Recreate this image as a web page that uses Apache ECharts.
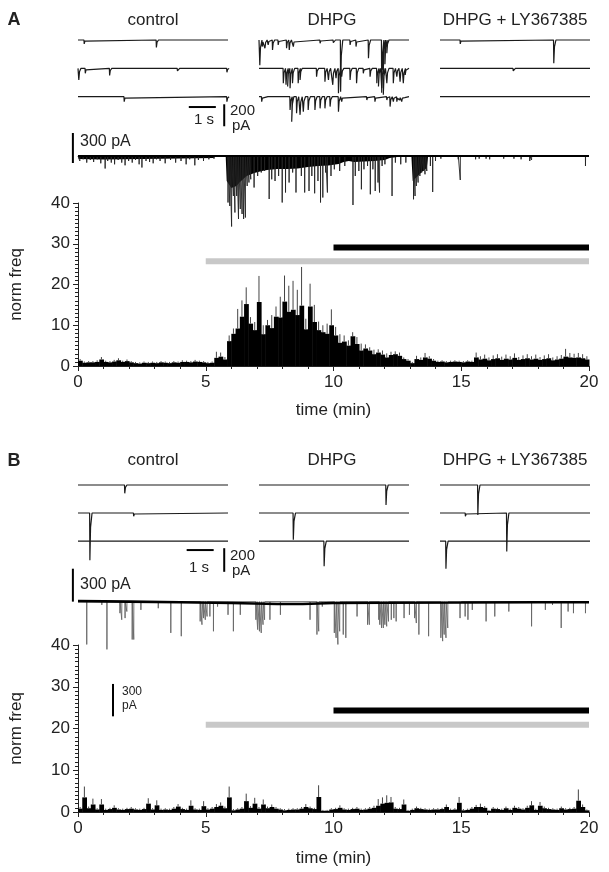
<!DOCTYPE html>
<html>
<head>
<meta charset="utf-8">
<script src="https://cdn.jsdelivr.net/npm/echarts@6/dist/echarts.min.js"></script>
<style>
html, body { margin: 0; padding: 0; background: #fff; }
#chart { width: 609px; height: 872px; }
</style>
</head>
<body>
<div id="chart"></div>
<script>
var FONT = "'Liberation Sans', Arial, Helvetica, sans-serif";
var BIN = 1 / 6;        // 10 s bins, in min
var TRACE_DUR = 5.55;   // s shown in each sample trace

// ---- histograms (norm freq per 10 s bin) ----
var histA = [1.3,0.8,0.9,0.9,1.0,1.6,1.0,0.9,1.1,1.4, 1.0,1.2,0.9,0.7,0.6,0.8,0.7,0.8,0.7,0.9,
  0.8,0.7,0.9,0.8,1.0,1.0,0.9,1.1,1.0,0.9, 0.7,0.8,2.0,2.3,1.6,6.1,7.9,9.2,12.1,15.2,
  10.4,8.8,15.7,7.8,10.0,9.3,12.1,11.9,15.8,13.3, 13.8,12.5,14.8,9.0,14.6,10.8,8.8,8.3,7.9,10.0,
  7.5,5.7,6.0,5.0,7.3,5.4,3.8,4.3,3.8,2.9, 3.3,2.8,2.1,2.7,2.9,2.5,1.7,1.3,0.7,1.7,
  1.5,2.1,1.8,1.3,1.0,1.1,0.9,1.0,1.1,1.0, 0.9,1.1,1.0,2.1,1.6,1.8,1.4,1.7,1.9,1.5,
  1.8,1.6,2.0,1.5,1.7,1.9,1.6,1.8,1.5,1.7, 1.9,1.4,1.6,1.8,2.3,2.1,2.0,2.1,1.9,1.6];
var errA = [0.4,0.3,0.3,0.3,0.4,0.6,0.3,0.3,0.4,0.5, 0.3,0.4,0.3,0.3,0.3,0.3,0.3,0.3,0.3,0.3,
  0.3,0.3,0.3,0.3,0.4,0.3,0.3,0.4,0.3,0.3, 0.3,0.3,1.5,1.0,0.6,1.4,1.3,4.8,4.0,4.1,
  1.6,2.0,6.4,2.2,1.3,3.2,2.5,5.1,6.4,6.4, 7.1,6.2,9.5,2.6,5.6,4.2,2.1,1.7,2.5,3.9,
  2.1,2.1,1.5,1.3,1.0,1.7,1.7,1.0,0.8,1.1, 0.8,1.0,1.0,0.8,0.7,0.8,0.4,0.4,0.3,0.8,
  0.6,1.1,0.6,0.4,0.3,0.3,0.3,0.3,0.3,0.3, 0.3,0.3,0.3,1.2,0.8,1.0,0.7,0.9,1.0,0.8,
  1.0,0.8,1.1,0.7,0.9,1.0,0.8,1.0,0.7,0.9, 1.0,0.7,0.8,0.9,1.9,1.1,1.0,1.1,1.0,0.8];
var histB = [0.8,3.5,0.9,1.8,0.6,1.8,0.5,0.7,1.0,0.6, 0.5,0.7,0.8,0.6,0.5,0.7,2.0,0.6,1.6,0.5,
  0.6,0.5,0.8,1.3,0.7,0.5,1.5,0.6,0.5,1.4, 0.6,0.8,1.2,1.5,0.9,3.5,0.4,0.6,0.8,2.6,
  1.0,2.0,0.8,1.8,0.9,1.2,0.8,0.6,0.4,0.5, 0.6,0.6,0.8,1.2,0.9,0.7,3.6,0.3,0.3,0.6,
  0.7,1.0,0.6,0.5,0.7,0.8,0.5,0.6,0.8,1.0, 1.5,2.0,2.2,2.3,0.8,0.7,1.8,0.3,0.5,0.9,
  0.7,0.6,0.5,0.6,0.6,0.7,1.2,0.5,0.6,2.2, 0.4,0.5,0.8,1.2,1.2,1.0,0.3,0.8,0.7,0.5,
  0.9,0.5,1.0,0.8,0.6,1.0,1.6,0.5,1.5,0.9, 0.7,0.6,0.5,0.9,0.6,0.7,0.8,2.7,1.2,0.4];
var errB = [0.4,2.6,0.4,1.4,0.3,1.3,0.3,0.3,0.6,0.3, 0.3,0.3,0.4,0.3,0.3,0.3,1.3,0.3,1.2,0.3,
  0.3,0.3,0.4,0.6,0.3,0.3,1.3,0.3,0.3,1.2, 0.3,0.4,0.7,0.8,0.4,2.6,0.3,0.3,0.4,1.8,
  0.4,1.4,0.4,1.2,0.4,0.6,0.4,0.3,0.3,0.3, 0.3,0.3,0.4,0.7,0.4,0.3,2.8,0.2,0.2,0.3,
  0.3,0.6,0.3,0.3,0.3,0.4,0.3,0.3,0.4,0.5, 1.6,1.5,1.8,1.3,0.4,0.3,1.2,0.2,0.3,0.4,
  0.3,0.3,0.3,0.3,0.3,0.3,0.6,0.3,0.3,1.4, 0.3,0.3,0.4,0.5,0.8,0.4,0.2,0.4,0.3,0.3,
  0.4,0.3,0.5,0.4,0.3,0.5,1.0,0.3,0.9,0.4, 0.3,0.3,0.3,0.4,0.3,0.3,0.4,2.7,0.6,0.2];

// drug application periods (min)
var dhpgPeriod = [5, 20];
var lyPeriod = [10, 20];
var xTicks = [0, 5, 10, 15, 20];

// ---- 20-min recordings: events [min, pA] ----
var longEventsA = [[0.07,50],[0.2,33],[0.34,66],[0.48,40],[0.61,60],[0.75,33],[0.89,73],[1.06,125],[1.16,50],
  [1.3,66],[1.43,83],[1.57,40],[1.71,66],[1.84,93],[1.98,50],[2.12,66],[2.25,40],[2.39,83],[2.5,115],
  [2.66,50],[2.8,60],[2.94,73],[3.07,33],[3.21,50],[3.41,73],[3.62,40],[3.82,66],[4.03,50],[4.23,83],
  [4.37,33],[4.57,93],[4.71,40],[4.91,50],[5.12,33],[5.32,27],
  [5.87,465],[5.94,500],[6.01,705],[6.08,400],[6.14,565],[6.21,400],[6.28,630],[6.35,530],[6.42,580],
  [6.48,630],[6.55,615],[6.62,300],[6.69,265],[6.76,233],[6.89,315],[7.03,200],[7.17,165],[7.3,150],
  [7.48,430],[7.58,233],[7.71,250],[7.85,200],[7.99,465],[8.12,365],[8.26,265],[8.4,165],[8.53,365],
  [8.74,200],[8.87,365],[9.04,350],[9.15,200],[9.26,373],[9.39,250],[9.49,465],[9.58,415],[9.69,165],
  [9.76,365],[9.9,200],[10.03,133],[10.24,150],[10.44,100],[10.76,490],[10.85,200],[10.99,150],
  [11.09,333],[11.19,133],[11.33,100],[11.44,383],[11.54,133],[11.63,350],[11.74,265],[11.8,365],
  [11.9,100],[12.01,83],[12.29,400],[12.42,66],[12.63,83],[12.83,66],[13.13,433],[13.19,400],
  [13.24,300],[13.31,265],[13.38,200],[13.45,165],[13.52,150],[13.58,183],[13.65,150],[13.79,100],
  [13.88,360],[13.99,50],[14.2,27],[14.88,33],[14.96,240],[15.56,33],[15.7,27],[15.97,27],[16.11,33],
  [16.66,27],[17.06,27],[17.34,33],[17.68,50],[17.75,40],[18.43,20],[19.11,20],[19.86,100]];
// envelope of the dense small events [min, pA]
var envelopeA = [[0,0],[0.03,30],[1,35],[2.5,30],[4,25],[5.3,20],[5.4,0],[5.78,0],[5.82,250],[6.0,320],
  [6.2,300],[6.34,260],[6.6,200],[6.9,170],[7.2,150],[7.4,140],[7.8,130],[8.2,130],[8.6,125],[9.0,110],
  [9.4,100],[9.8,95],[10.2,80],[10.4,60],[10.6,50],[10.8,60],[11.2,55],[11.6,50],[12.0,40],[12.2,20],
  [12.5,10],[13.05,10],[13.1,250],[13.3,200],[13.5,150],[13.65,120],[13.7,10],[14.0,0],[20,0]];

var longEventsB = [[0.34,390],[0.93,30],[1.13,435],[1.64,105],[1.71,165],[1.84,150],[1.91,90],[2.12,345],
  [2.18,345],[2.46,75],[3.14,60],[3.63,285],[4.04,315],[4.78,180],[4.85,210],[4.91,150],[4.98,165],
  [5.05,135],[5.16,135],[5.3,270],[5.46,45],[5.87,120],[6.08,270],[6.35,120],[6.96,165],[7.03,255],
  [7.1,270],[7.17,285],[7.24,210],[7.3,165],[7.51,165],[7.92,120],[9.08,165],[9.35,300],[9.42,270],
  [9.56,45],[10.03,285],[10.1,330],[10.17,390],[10.24,270],[10.38,300],[10.48,330],[10.92,135],
  [11.33,210],[11.4,210],[11.77,165],[11.81,210],[11.88,240],[11.95,240],[12.01,210],[12.08,225],
  [12.15,180],[12.26,165],[12.36,150],[12.45,180],[12.76,150],[12.97,120],[13.17,150],[13.24,195],
  [13.34,300],[13.72,315],[14.2,330],[14.27,360],[14.33,300],[14.4,330],[14.47,240],[14.95,150],
  [15.15,135],[15.26,165],[15.43,75],[15.97,180],[16.31,135],[16.86,90],[17.75,225],[18.29,75],
  [18.57,30],[18.91,240],[19.18,90],[19.39,105],[19.86,105]];
var baselineB = [[0,5],[2,0],[4,-5],[6,-12],[7.8,-22],[8.8,-22],[10,-12],[12,-10],[15,-8],[18,-5],[20,-5]];

// ---- sample traces: 3 sweeps each, events [s, pA] ----
var ctrlA = [[[0.22,35],[2.89,67]], [[0.02,106],[0.26,45],[1.16,65],[3.67,24],[5.5,36]], [[1.7,45],[5.5,45]]];
var dhpgA = [
  [[0.02,230],[0.11,60],[0.21,75],[0.33,45],[0.49,90],[0.7,45],[1.01,75],[1.11,90],[1.26,60],[2.25,30],
   [2.74,25],[3.01,470],[3.36,45],[3.58,60],[4.04,165],[4.53,480],[4.59,270],[4.65,220],[4.72,120]],
  [[0.09,15],[0.4,15],[0.89,136],[0.99,150],[1.05,165],[1.14,180],[1.23,136],[1.44,136],[1.51,106],
   [2.12,76],[2.43,121],[2.56,106],[2.72,150],[2.84,90],[2.93,227],[3.05,76],[3.36,106],[3.6,136],
   [3.85,45],[4.1,76],[4.35,136],[4.41,165],[4.53,180],[4.59,240],[4.72,136],[4.96,136],[5.09,76],
   [5.21,121],[5.33,136],[5.4,60]],
  [[0.09,45],[0.33,15],[1.14,121],[1.2,227],[1.38,150],[1.51,165],[1.63,136],[1.81,121],[2.06,121],
   [2.25,106],[2.43,106],[2.62,90],[2.93,136],[3.05,45],[3.98,30],[4.28,45],[4.72,30],[4.84,90],
   [4.96,45],[5.09,45],[5.19,30],[5.27,45],[5.36,30]]];
var lyA = [[[0.74,36],[4.2,212]], [[2.7,24]], []];
var ctrlB = [[[1.72,76]], [[0.43,430],[2.05,30]], []];
var dhpgB = [[[4.69,182]], [[1.26,243]], [[2.4,230]]];
var lyB = [[[1.39,273]], [[0.93,30],[2.46,350]], [[0.21,252]]];

// scale bars, in each panel's own units
var barTimeSmall = [4.1, 5.1];        // 1 s
var barAmpSmall = [-585, -785];       // 200 pA
var barAmpLongA = [230, -70];         // 300 pA
var barAmpLongB = [300, 0];           // 300 pA
var barAmpHistB = [-750, -1045];      // 300 pA

function sweep(events, offset) {
  var pts = [[0, offset]];
  events.forEach(function (e) {
    var t = e[0], a = e[1];
    pts.push([t, offset], [t + 0.01, offset - a], [t + 0.035, offset - a * 0.3], [t + 0.09, offset]);
  });
  pts.push([TRACE_DUR, offset]);
  return pts;
}
function recording(events) {
  var pts = [[0, 0]];
  events.forEach(function (e) {
    pts.push([e[0], 0], [e[0] + 0.002, -e[1]], [e[0] + 0.006, 0]);
  });
  pts.push([20, 0]);
  return pts;
}
function line(xi, data, color, width, extra) {
  var s = {
    type: 'line', xAxisIndex: xi, yAxisIndex: xi, data: data, symbol: 'none',
    silent: true, animation: false, clip: false,
    lineStyle: { color: color, width: width, cap: 'butt' }
  };
  for (var k in extra) s[k] = extra[k];
  return s;
}
function histItem(params, api) {
  var x0 = api.value(0), v = api.value(1), e = api.value(2);
  var p0 = api.coord([x0, 0]);
  var p1 = api.coord([x0 + BIN, v]);
  var pe = api.coord([x0 + BIN / 2, v + e]);
  return { type: 'group', children: [
    { type: 'rect', shape: { x: p0[0], y: p1[1], width: p1[0] - p0[0] + 0.5, height: p0[1] - p1[1] },
      style: { fill: '#000' } },
    { type: 'line', shape: { x1: pe[0], y1: p1[1], x2: pe[0], y2: pe[1] },
      style: { stroke: '#444', lineWidth: 1 } }
  ] };
}
function histSeries(idx, vals, errs) {
  return { type: 'custom', xAxisIndex: idx, yAxisIndex: idx, renderItem: histItem, silent: true,
    animation: false, data: vals.map(function (v, i) { return [i * BIN, v, errs[i]]; }) };
}

var axisColor = '#222';
function histX(gi, gap) {
  return { gridIndex: gi, type: 'value', min: 0, max: 20, interval: 5,
    name: 'time (min)', nameLocation: 'middle', nameGap: gap,
    nameTextStyle: { fontSize: 17, color: axisColor, fontFamily: FONT },
    axisLine: { lineStyle: { color: axisColor } },
    axisTick: { length: 5, lineStyle: { color: axisColor } },
    minorTick: { show: true, splitNumber: 5, length: 3, lineStyle: { color: axisColor } },
    axisLabel: { fontSize: 17, color: axisColor, fontFamily: FONT, margin: 8,
      formatter: function (v) { return xTicks.indexOf(v) >= 0 ? String(v) : ''; } },
    splitLine: { show: false } };
}
function histY(gi) {
  return { gridIndex: gi, type: 'value', min: 0, max: 40, interval: 10,
    name: 'norm freq', nameLocation: 'middle', nameGap: 53, nameRotate: 90,
    nameTextStyle: { fontSize: 17, color: axisColor, fontFamily: FONT },
    axisLine: { show: true, lineStyle: { color: axisColor } },
    axisTick: { show: true, length: 5, lineStyle: { color: axisColor } },
    minorTick: { show: true, splitNumber: 10, length: 3, lineStyle: { color: axisColor } },
    axisLabel: { fontSize: 17, color: axisColor, fontFamily: FONT, margin: 8 },
    splitLine: { show: false } };
}
function hidden(gi, min, max) {
  return { gridIndex: gi, type: 'value', min: min, max: max, show: false, splitLine: { show: false } };
}

function txt(x, y, s, size, align, bold) {
  return { type: 'text', x: x, y: y, silent: true,
    style: { text: s, font: (bold ? 'bold ' : '') + size + 'px ' + FONT, fill: '#222',
      align: align, verticalAlign: 'middle', textAlign: align, textVerticalAlign: 'middle' } };
}

var sweepGroups = [ctrlA, dhpgA, lyA, ctrlB, dhpgB, lyB];
var offsetsA = [0, -258, -516];
var offsetsB = [0, -255, -510];

var series = [
  histSeries(0, histA, errA),
  histSeries(1, histB, errB),
  line(0, [[dhpgPeriod[0], 25.7], [dhpgPeriod[1], 25.7]], '#c8c8c8', 6),
  line(0, [[lyPeriod[0], 29.1], [lyPeriod[1], 29.1]], '#000', 6),
  line(1, [[dhpgPeriod[0], 20.9], [dhpgPeriod[1], 20.9]], '#c8c8c8', 6),
  line(1, [[lyPeriod[0], 24.3], [lyPeriod[1], 24.3]], '#000', 6),
  line(2, envelopeA.map(function (p) { return [p[0], -p[1]]; }), '#000', 0,
    { areaStyle: { color: '#000', opacity: 1 } }),
  line(2, recording(longEventsA), '#222', 0.9),
  line(2, [[0, 0], [20, 0]], '#000', 1.8),
  line(2, [[-0.2, barAmpLongA[0]], [-0.2, barAmpLongA[1]]], '#000', 2),
  line(3, recording(longEventsB), '#666', 0.9),
  line(3, baselineB, '#000', 2.6),
  line(3, [[-0.2, barAmpLongB[0]], [-0.2, barAmpLongB[1]]], '#000', 2),
  line(3, [[1.37, barAmpHistB[0]], [1.37, barAmpHistB[1]]], '#000', 2),
  line(4, [[barTimeSmall[0], -610], [barTimeSmall[1], -610]], '#000', 2),
  line(4, [[5.41, barAmpSmall[0]], [5.41, barAmpSmall[1]]], '#000', 2),
  line(7, [[barTimeSmall[0] - 0.08, -592], [barTimeSmall[1] - 0.08, -592]], '#000', 2),
  line(7, [[5.41, barAmpSmall[0] + 10], [5.41, barAmpSmall[1] - 5]], '#000', 2)
];
sweepGroups.forEach(function (grp, g) {
  var offs = g < 3 ? offsetsA : offsetsB;
  grp.forEach(function (ev, k) {
    series.push(line(4 + g, sweep(ev, offs[k]), '#1a1a1a', 1.2));
  });
});

// long recordings get a little room left of t = 0 for their scale bars
var LEFT_PAD = 0.3;
var pxPerMin = 511 / 20;
var xAxes = [histX(0, 36), histX(1, 38), hidden(2, -LEFT_PAD, 20), hidden(3, -LEFT_PAD, 20)];
var yAxes = [histY(0), histY(1), hidden(2, -750, 250), hidden(3, -550, 270)];
for (var g = 4; g < 10; g++) {
  xAxes.push(hidden(g, 0, TRACE_DUR));
  yAxes.push(hidden(g, -819, 91));
}
var padPx = LEFT_PAD * pxPerMin;

var chart = echarts.init(document.getElementById('chart'), null, { renderer: 'canvas' });
chart.setOption({
  backgroundColor: '#fff',
  animation: false,
  textStyle: { fontFamily: FONT },
  grid: [
    { left: 78, top: 203, width: 511, height: 163 },
    { left: 78, top: 645, width: 511, height: 167 },
    { left: 78 - padPx, top: 131, width: 511 + padPx, height: 100 },
    { left: 78 - padPx, top: 572, width: 511 + padPx, height: 90 },
    { left: 78, top: 30, width: 150, height: 100 },
    { left: 259, top: 30, width: 150, height: 100 },
    { left: 440, top: 30, width: 150, height: 100 },
    { left: 78, top: 475, width: 150, height: 100 },
    { left: 259, top: 475, width: 150, height: 100 },
    { left: 440, top: 475, width: 150, height: 100 }
  ],
  xAxis: xAxes,
  yAxis: yAxes,
  series: series,
  graphic: [
    txt(14, 20, 'A', 18, 'center', true),
    txt(153, 20, 'control', 17, 'center'),
    txt(332, 20, 'DHPG', 17, 'center'),
    txt(515, 20, 'DHPG + LY367385', 17, 'center'),
    txt(204, 120, '1 s', 15, 'center'),
    txt(230, 111, '200', 15, 'left'),
    txt(232, 126, 'pA', 15, 'left'),
    txt(80, 142, '300 pA', 16, 'left'),
    txt(14, 461, 'B', 18, 'center', true),
    txt(153, 460, 'control', 17, 'center'),
    txt(332, 460, 'DHPG', 17, 'center'),
    txt(515, 460, 'DHPG + LY367385', 17, 'center'),
    txt(199, 568, '1 s', 15, 'center'),
    txt(230, 556, '200', 15, 'left'),
    txt(232, 571, 'pA', 15, 'left'),
    txt(80, 585, '300 pA', 16, 'left'),
    txt(122, 692, '300', 12, 'left'),
    txt(122, 706, 'pA', 12, 'left')
  ]
});
</script>
</body>
</html>
